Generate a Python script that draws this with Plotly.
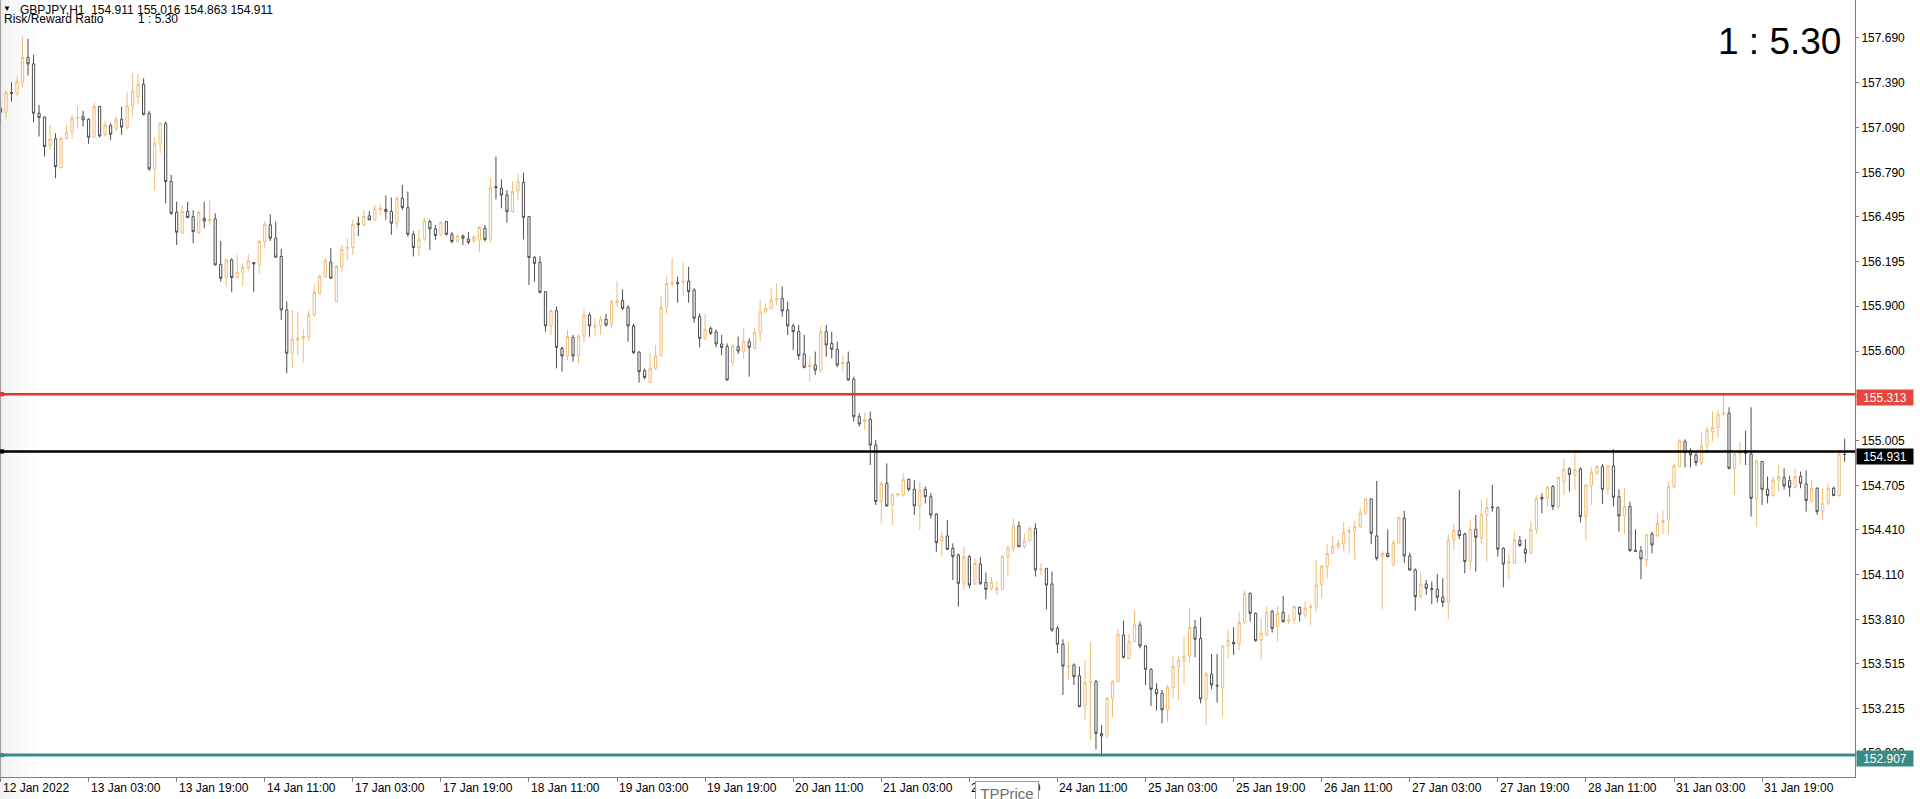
import plotly.graph_objects as go

# ---------------- data ----------------
opens = [157.219,157.193,157.324,157.319,157.393,157.559,157.515,157.186,157.160,156.971,
157.015,156.824,157.019,157.059,157.153,157.164,157.146,157.026,157.231,157.042,
157.104,157.086,157.146,157.093,157.235,157.297,157.379,157.186,156.815,156.986,
157.117,156.731,156.526,156.386,156.531,156.497,156.391,156.486,156.468,156.482,
156.179,156.091,156.208,156.091,156.126,156.157,156.191,156.179,156.331,156.442,
156.353,156.231,155.875,155.586,155.675,155.686,155.693,155.842,155.986,156.097,
156.193,155.931,156.164,156.282,156.291,156.453,156.442,156.502,156.475,156.542,
156.546,156.531,156.453,156.619,156.557,156.379,156.291,156.348,156.464,156.415,
156.375,156.464,156.379,156.331,156.368,156.348,156.335,156.340,156.419,156.345,
156.697,156.685,156.641,156.530,156.670,156.725,156.497,156.225,156.192,155.997,
155.768,155.870,155.619,155.568,155.692,155.568,155.701,155.841,155.763,155.770,
155.812,155.781,155.925,155.937,155.892,155.768,155.594,155.470,155.392,155.485,
155.568,155.890,156.048,156.057,156.057,156.066,156.008,155.830,155.685,155.752,
155.728,155.648,155.630,155.525,155.630,155.597,155.663,155.619,155.723,155.863,
155.885,155.941,155.952,155.874,155.768,155.730,155.581,155.497,155.508,155.474,
155.730,155.652,155.612,155.514,155.525,155.412,155.163,155.130,155.145,154.974,
154.597,154.719,154.574,154.641,154.641,154.745,154.679,154.568,154.679,154.630,
154.514,154.337,154.368,154.285,154.241,154.052,154.230,154.048,154.181,154.057,
154.019,154.008,154.012,154.230,154.286,154.435,154.297,154.337,154.419,154.141,
154.152,154.048,153.752,153.646,153.497,153.508,153.435,153.235,153.390,153.397,
153.052,153.035,153.286,153.397,153.708,153.552,153.664,153.775,153.635,153.479,
153.346,153.319,153.208,153.359,153.497,153.537,153.568,153.759,153.684,153.281,
153.446,153.372,153.359,153.635,153.659,153.648,153.790,153.986,153.852,153.675,
153.708,153.864,153.764,153.859,153.801,153.808,153.892,153.841,153.890,153.893,
154.041,154.164,154.252,154.297,154.315,154.395,154.397,154.430,154.519,154.615,
154.368,154.230,154.252,154.175,154.324,154.486,154.235,154.141,153.964,154.048,
154.017,154.012,153.960,153.924,154.341,154.404,154.381,154.197,154.412,154.352,
154.512,154.561,154.557,154.286,154.186,154.186,154.337,154.279,154.252,154.412,
154.624,154.619,154.697,154.564,154.730,154.815,154.775,154.815,154.497,154.704,
154.786,154.830,154.679,154.835,154.630,154.501,154.564,154.272,154.268,154.208,
154.381,154.368,154.459,154.475,154.697,154.830,154.997,154.930,154.908,154.857,
154.968,155.064,155.090,155.181,155.186,154.819,154.915,154.937,154.915,154.619,
154.864,154.679,154.637,154.741,154.757,154.737,154.692,154.764,154.715,154.604,
154.686,154.530,154.586,154.686,154.637,154.911]

highs = [157.264,157.342,157.393,157.431,157.697,157.682,157.575,157.242,157.164,157.108,
157.053,157.031,157.108,157.175,157.231,157.202,157.153,157.257,157.235,157.131,
157.119,157.164,157.231,157.324,157.453,157.446,157.419,157.202,157.024,157.126,
157.131,156.775,156.597,156.575,156.597,156.540,156.535,156.597,156.608,156.519,
156.335,156.219,156.219,156.242,156.186,156.246,156.193,156.342,156.464,156.513,
156.464,156.282,155.931,155.875,155.864,155.748,155.875,156.042,156.113,156.219,
156.286,156.175,156.308,156.353,156.475,156.497,156.542,156.535,156.575,156.579,
156.637,156.624,156.631,156.708,156.664,156.402,156.408,156.491,156.475,156.442,
156.464,156.468,156.393,156.375,156.379,156.393,156.374,156.435,156.441,156.752,
156.897,156.745,156.674,156.734,156.785,156.790,156.501,156.234,156.234,155.997,
155.879,155.897,155.630,155.741,155.708,155.714,155.885,155.857,155.819,155.834,
155.848,155.941,156.068,156.012,155.908,155.785,155.599,155.485,155.590,155.641,
155.968,156.097,156.219,156.097,156.197,156.163,156.019,155.852,155.852,155.763,
155.745,155.708,155.652,155.645,155.697,155.757,155.685,155.752,155.941,155.919,
156.019,156.052,156.030,155.930,155.785,155.774,155.708,155.568,155.597,155.768,
155.774,155.730,155.663,155.568,155.597,155.430,155.185,155.190,155.197,155.008,
154.730,154.852,154.652,154.652,154.785,154.752,154.741,154.730,154.697,154.652,
154.519,154.397,154.474,154.319,154.252,154.297,154.241,154.219,154.226,154.124,
154.097,154.064,154.241,154.308,154.486,154.464,154.386,154.430,154.452,154.186,
154.152,154.130,153.768,153.679,153.664,153.519,153.497,153.541,153.657,153.408,
153.108,153.297,153.408,153.746,153.804,153.719,153.870,153.797,153.641,153.486,
153.386,153.341,153.375,153.568,153.564,153.697,153.892,153.808,153.826,153.464,
153.581,153.581,153.641,153.741,153.759,153.857,154.004,153.990,153.857,153.819,
153.901,153.875,153.901,153.968,153.846,153.901,153.897,153.930,153.915,154.208,
154.175,154.312,154.364,154.341,154.464,154.430,154.470,154.559,154.619,154.619,
154.735,154.270,154.412,154.341,154.497,154.535,154.257,154.152,154.124,154.075,
154.064,154.115,154.086,154.375,154.448,154.675,154.390,154.475,154.508,154.612,
154.619,154.708,154.564,154.292,154.252,154.397,154.368,154.346,154.464,154.641,
154.652,154.701,154.708,154.764,154.881,154.826,154.937,154.826,154.715,154.826,
154.841,154.846,154.841,154.946,154.679,154.686,154.597,154.412,154.301,154.386,
154.397,154.519,154.537,154.730,154.852,155.012,155.012,154.952,154.924,155.057,
155.097,155.197,155.208,155.319,155.226,154.919,154.997,155.070,155.226,154.879,
154.868,154.764,154.764,154.841,154.819,154.768,154.819,154.797,154.804,154.741,
154.692,154.686,154.715,154.697,154.941,155.016]

lows = [157.108,157.142,157.264,157.297,157.357,157.437,157.126,157.031,156.897,156.942,
156.753,156.815,157.008,157.019,157.086,157.097,156.982,157.020,157.024,157.031,
157.008,157.068,157.042,157.079,157.171,157.242,157.171,156.802,156.675,156.919,
156.586,156.508,156.308,156.379,156.486,156.319,156.379,156.419,156.442,156.171,
156.064,156.031,155.993,156.090,156.031,156.131,155.993,156.119,156.286,156.335,
156.224,155.808,155.453,155.486,155.575,155.526,155.664,155.831,155.975,156.091,
156.084,155.929,156.131,156.208,156.242,156.368,156.431,156.474,156.464,156.508,
156.475,156.375,156.419,156.542,156.364,156.231,156.231,156.335,156.275,156.342,
156.371,156.371,156.319,156.330,156.308,156.313,156.319,156.260,156.330,156.323,
156.612,156.552,156.457,156.523,156.608,156.345,156.041,156.063,155.985,155.730,
155.708,155.485,155.463,155.537,155.530,155.512,155.657,155.697,155.697,155.708,
155.763,155.757,155.897,155.874,155.663,155.581,155.390,155.412,155.390,155.474,
155.567,155.852,156.030,155.923,155.963,155.923,155.790,155.625,155.674,155.708,
155.625,155.574,155.403,155.501,155.581,155.552,155.430,155.608,155.663,155.852,
155.879,155.908,155.830,155.708,155.608,155.541,155.485,155.397,155.441,155.457,
155.563,155.552,155.492,155.463,155.403,155.130,155.097,155.074,154.841,154.574,
154.452,154.563,154.441,154.630,154.630,154.663,154.508,154.408,154.585,154.485,
154.263,154.230,154.274,154.074,153.897,154.008,154.019,154.041,154.041,153.946,
154.004,153.975,154.008,154.097,154.264,154.293,154.286,154.330,154.097,154.108,
153.879,153.730,153.586,153.308,153.408,153.375,153.226,153.141,153.008,152.946,
152.897,153.019,153.159,153.390,153.552,153.546,153.657,153.619,153.375,153.235,
153.204,153.119,153.130,153.286,153.275,153.375,153.524,153.559,153.252,153.108,
153.346,153.257,153.164,153.552,153.575,153.604,153.781,153.797,153.664,153.546,
153.701,153.724,153.664,153.790,153.781,153.781,153.797,153.819,153.775,153.864,
153.953,154.086,154.248,154.279,154.264,154.252,154.212,154.419,154.508,154.315,
154.204,153.879,154.226,154.168,154.315,154.190,154.137,153.870,153.953,153.975,
153.912,153.924,153.893,153.812,154.270,154.346,154.119,154.141,154.130,154.319,
154.197,154.530,154.230,154.026,154.079,154.181,154.297,154.190,154.248,154.381,
154.519,154.564,154.541,154.552,154.641,154.664,154.675,154.457,154.337,154.575,
154.775,154.581,154.641,154.564,154.397,154.381,154.264,154.264,154.079,154.168,
154.252,154.364,154.381,154.381,154.686,154.826,154.826,154.826,154.835,154.841,
154.919,154.997,155.019,155.164,154.812,154.641,154.841,154.841,154.497,154.430,
154.575,154.586,154.630,154.664,154.679,154.630,154.686,154.686,154.530,154.590,
154.508,154.475,154.575,154.635,154.630,154.863]

closes = [157.193,157.324,157.319,157.397,157.559,157.515,157.186,157.157,156.964,157.013,
156.831,157.019,157.059,157.153,157.157,157.142,157.026,157.231,157.035,157.108,
157.046,157.146,157.093,157.235,157.335,157.379,157.179,156.815,156.986,157.117,
156.731,156.519,156.393,156.531,156.491,156.397,156.526,156.468,156.479,156.175,
156.086,156.208,156.091,156.126,156.160,156.202,156.182,156.331,156.446,156.353,
156.226,155.875,155.586,155.679,155.686,155.697,155.842,155.991,156.097,156.202,
156.086,156.164,156.279,156.291,156.446,156.442,156.497,156.475,156.548,156.553,
156.531,156.453,156.619,156.557,156.379,156.291,156.346,156.468,156.415,156.371,
156.459,156.379,156.331,156.368,156.353,156.326,156.357,156.425,156.345,156.690,
156.690,156.641,156.530,156.663,156.730,156.492,156.225,156.185,155.992,155.768,
155.870,155.625,155.568,155.697,155.568,155.701,155.841,155.768,155.770,155.812,
155.774,155.930,155.934,155.885,155.768,155.590,155.463,155.425,155.485,155.568,
155.890,156.052,156.059,156.052,156.066,155.997,155.819,155.685,155.745,155.719,
155.648,155.625,155.408,155.634,155.601,155.663,155.625,155.723,155.863,155.885,
155.941,155.952,155.868,155.768,155.730,155.570,155.492,155.508,155.474,155.730,
155.641,155.612,155.508,155.525,155.408,155.163,155.114,155.145,154.974,154.597,
154.719,154.568,154.641,154.648,154.745,154.679,154.568,154.674,154.630,154.508,
154.323,154.363,154.279,154.230,154.052,154.230,154.041,154.186,154.052,154.012,
154.059,154.019,154.230,154.286,154.435,154.297,154.335,154.419,154.141,154.148,
154.041,153.741,153.646,153.501,153.504,153.430,153.230,153.390,153.397,153.052,
153.035,153.286,153.397,153.712,153.559,153.664,153.775,153.635,153.479,153.346,
153.315,153.208,153.359,153.497,153.541,153.568,153.759,153.679,153.281,153.448,
153.375,153.368,153.635,153.670,153.648,153.790,153.986,153.852,153.670,153.719,
153.857,153.752,153.852,153.797,153.808,153.897,153.846,153.886,153.897,154.041,
154.168,154.252,154.297,154.319,154.390,154.401,154.430,154.519,154.615,154.386,
154.219,154.252,154.230,154.324,154.490,154.235,154.141,153.964,154.048,154.019,
154.012,153.960,153.926,154.341,154.404,154.370,154.197,154.412,154.359,154.512,
154.559,154.557,154.279,154.181,154.197,154.341,154.304,154.252,154.412,154.619,
154.615,154.692,154.564,154.759,154.812,154.779,154.812,154.497,154.708,154.792,
154.830,154.679,154.835,154.626,154.501,154.564,154.270,154.266,154.215,154.375,
154.308,154.452,154.470,154.697,154.835,155.001,154.924,154.908,154.857,154.968,
155.075,155.090,155.181,155.186,154.819,154.915,154.930,154.919,154.619,154.868,
154.679,154.637,154.741,154.764,154.701,154.692,154.764,154.719,154.604,154.686,
154.530,154.586,154.686,154.637,154.915,154.911]

x_tick_bars = [0, 16, 32, 48, 64, 80, 96, 112, 128, 144, 160, 176, 192, 208, 224, 240, 256, 272, 288, 304, 320]
x_tick_labels = ["12 Jan 2022", "13 Jan 03:00", "13 Jan 19:00", "14 Jan 11:00", "17 Jan 03:00",
                 "17 Jan 19:00", "18 Jan 11:00", "19 Jan 03:00", "19 Jan 19:00", "20 Jan 11:00",
                 "21 Jan 03:00", "21 Jan 19:00", "24 Jan 11:00", "25 Jan 03:00", "25 Jan 19:00",
                 "26 Jan 11:00", "27 Jan 03:00", "27 Jan 19:00", "28 Jan 11:00", "31 Jan 03:00",
                 "31 Jan 19:00"]
y_tick_vals = [157.690, 157.390, 157.090, 156.790, 156.495, 156.195, 155.900, 155.600, 155.300,
               155.005, 154.705, 154.410, 154.110, 153.810, 153.515, 153.215, 152.920]
y_tick_text = ["157.690", "157.390", "157.090", "156.790", "156.495", "156.195", "155.900", "155.600",
               "155.300", "155.005", "154.705", "154.410", "154.110", "153.810", "153.515", "153.215",
               "152.920"]

symbol_label = "GBPJPY,H1"
last_ohlc = [154.911, 155.016, 154.863, 154.911]
sl_price = 155.313
entry_price = 154.931
tp_price = 152.907
rr_label = "Risk/Reward Ratio"
rr_value = "1 : 5.30"
tooltip_text = "TPPrice"

# ---------------- geometry / style ----------------
W, H = 1920, 799
PLOT_W, PLOT_H = 1855, 777
FONT = "Liberation Sans, Arial, sans-serif"
BULL = "#f0bd76"
BEAR = "#4d4d4d"
AXIS = "#7f7f7f"

xs = list(range(len(opens)))

fig = go.Figure()
fig.add_trace(go.Candlestick(
    x=xs, open=opens, high=highs, low=lows, close=closes,
    increasing=dict(line=dict(color=BULL, width=1), fillcolor="#ffffff"),
    decreasing=dict(line=dict(color=BEAR, width=1), fillcolor="#ffffff"),
    whiskerwidth=0, showlegend=False, hoverinfo="skip",
))

shapes = []
# soft screen shadow at the very left edge
for wpx in [3, 6, 10, 15, 21, 28, 36]:
    shapes.append(dict(type="rect", xref="paper", yref="paper",
                       x0=0, x1=wpx / PLOT_W, y0=-0.03, y1=1.0,
                       fillcolor="rgba(0,0,0,0.008)", line=dict(width=0), layer="below"))
# left frame line
shapes.append(dict(type="line", xref="paper", yref="paper", x0=0.6 / PLOT_W, x1=0.6 / PLOT_W,
                   y0=0, y1=1, line=dict(color="#9a9a9a", width=1)))
# price level lines
for price, col, wid in [(sl_price, "#e5382d", 2.5), (entry_price, "#000000", 2.5), (tp_price, "#3b8a84", 3)]:
    shapes.append(dict(type="line", xref="paper", yref="y", x0=0, x1=1, y0=price, y1=price,
                       line=dict(color=col, width=wid)))
    shapes.append(dict(type="rect", xref="paper", yref="y", x0=0.0, x1=4 / PLOT_W,
                       y0=price + 0.014, y1=price - 0.014, fillcolor=col, line=dict(width=0)))

annotations = []
# x-axis labels, left-aligned at their tick
for b, lab in zip(x_tick_bars, x_tick_labels):
    annotations.append(dict(x=b, xref="x", y=0, yref="paper", xanchor="left", yanchor="top",
                            xshift=1, yshift=-3, text=lab, showarrow=False, borderpad=0,
                            font=dict(family=FONT, size=12, color="#000000")))
# tooltip covering one of the labels
annotations.append(dict(x=975 / PLOT_W, xref="paper", y=0, yref="paper", xanchor="left", yanchor="top",
                        yshift=-4, text=tooltip_text, showarrow=False, width=62, height=22,
                        bgcolor="#ffffff", bordercolor="#9a9a9a", borderwidth=1, borderpad=0,
                        font=dict(family=FONT, size=15, color="#6e6e6e")))
# price tags on the right axis
for price, col, ysh in [(sl_price, "#e8453c", -3), (entry_price, "#000000", -5), (tp_price, "#3b8a84", -3)]:
    annotations.append(dict(x=1, xref="paper", y=price, yref="y", xanchor="left", yanchor="middle",
                            xshift=1, yshift=ysh, text=f"{price:.3f}", showarrow=False,
                            width=54, height=13, borderpad=1, bgcolor=col,
                            font=dict(family=FONT, size=12, color="#ffffff")))
# header lines
annotations.append(dict(x=2 / PLOT_W, xref="paper", y=1, yref="paper", xanchor="left", yanchor="top",
                        yshift=-3, text="▼", showarrow=False, borderpad=0,
                        font=dict(family=FONT, size=8, color="#000000")))
annotations.append(dict(x=19 / PLOT_W, xref="paper", y=1, yref="paper", xanchor="left", yanchor="top",
                        yshift=-2, showarrow=False, borderpad=0,
                        text=symbol_label + "  " + " ".join(f"{v:.3f}" for v in last_ohlc),
                        font=dict(family=FONT, size=12, color="#000000")))
annotations.append(dict(x=3 / PLOT_W, xref="paper", y=1, yref="paper", xanchor="left", yanchor="top",
                        yshift=-11, text=rr_label, showarrow=False, borderpad=0,
                        font=dict(family=FONT, size=12, color="#000000")))
annotations.append(dict(x=137 / PLOT_W, xref="paper", y=1, yref="paper", xanchor="left", yanchor="top",
                        yshift=-11, text=rr_value, showarrow=False, borderpad=0,
                        font=dict(family=FONT, size=12, color="#000000")))
# big ratio readout
annotations.append(dict(x=1842 / PLOT_W, xref="paper", y=1, yref="paper", xanchor="right", yanchor="top",
                        yshift=-20, text=rr_value, showarrow=False, borderpad=0,
                        font=dict(family=FONT, size=37, color="#000000")))

fig.update_layout(
    width=W, height=H,
    margin=dict(l=0, r=W - PLOT_W, t=0, b=H - PLOT_H),
    paper_bgcolor="#ffffff", plot_bgcolor="#ffffff",
    boxgap=0.42,
    showlegend=False,
    shapes=shapes, annotations=annotations,
    xaxis=dict(range=[-0.091, 336.88], rangeslider=dict(visible=False), showgrid=False, zeroline=False,
               showline=True, linecolor=AXIS, linewidth=1, ticks="outside", ticklen=4, tickcolor=AXIS,
               tickvals=x_tick_bars, showticklabels=False, fixedrange=True),
    yaxis=dict(side="right", range=[152.761, 157.941], showgrid=False, zeroline=False,
               showline=True, linecolor=AXIS, linewidth=1, ticks="outside", ticklen=3, tickcolor=AXIS,
               tickvals=y_tick_vals, ticktext=y_tick_text,
               tickfont=dict(family=FONT, size=12, color="#000000")),
)

fig.write_html("out.html",
               config={"displayModeBar": False},
               post_script="document.body.style.margin='0px';document.body.style.overflow='hidden';")
